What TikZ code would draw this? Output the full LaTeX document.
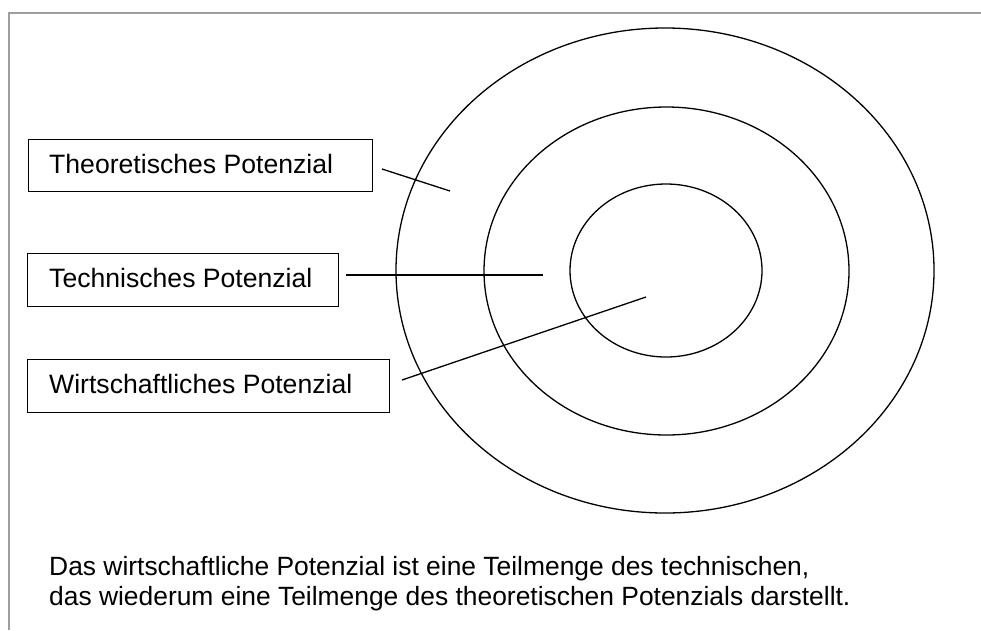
\documentclass[tikz,border=0pt]{standalone}
\usepackage{fontspec}
\setmainfont{Liberation Sans}
\usetikzlibrary{shapes.geometric}
\tikzset{
  ring/.style={draw=black, line width=1.3pt, ellipse, inner sep=0pt, outer sep=0pt},
  lbox/.style={draw=black, line width=1.4pt, rectangle, inner sep=0pt, anchor=north west},
  lbl/.style={anchor=base west, inner sep=0pt, font=\fontsize{26.6}{31}\selectfont},
  captext/.style={anchor=base west, inner sep=0pt, font=\fontsize{26.4}{30}\selectfont},
  conn/.style={draw=black, line width=1.3pt},
  frame/.style={draw=black!38, line width=1.8pt}
}
\begin{document}
\begin{tikzpicture}[x=1pt, y=-1pt]
\useasboundingbox (0,0) rectangle (981,630);
% frame
\coordinate (f1) at (9,630);
\coordinate (f2) at (9,13);
\coordinate (f3) at (981,13);
\draw[frame] (f1) -- (f2) -- (f3);
% rings
\node[ring, minimum width=538pt, minimum height=485pt] (outer) at (665,270.5) {};
\node[ring, minimum width=365pt, minimum height=328pt] (middle) at (666.5,271) {};
\node[ring, minimum width=192pt, minimum height=173pt] (inner) at (666,270.5) {};
% boxes
\node[lbox, minimum width=344pt, minimum height=52pt] (b1) at (28,139) {};
\node[lbox, minimum width=311pt, minimum height=53pt] (b2) at (27,253) {};
\node[lbox, minimum width=362pt, minimum height=53pt] (b3) at (27,359) {};
\node[lbl] (t1) at (49,173) {Theoretisches Potenzial};
\node[lbl] (t2) at (49,287) {Technisches Potenzial};
\node[lbl] (t3) at (49,393) {Wirtschaftliches Potenzial};
% connectors
\coordinate (s1) at (382,169);
\coordinate (e1) at (450,191);
\coordinate (s2) at (346,275);
\coordinate (e2) at (543,275);
\coordinate (s3) at (402,380);
\coordinate (e3) at (646,297);
\draw[conn] (s1) -- (e1);
\draw[conn] (s2) -- (e2);
\draw[conn] (s3) -- (e3);
% caption
\node[captext] (c1) at (49,575) {Das wirtschaftliche Potenzial ist eine Teilmenge des technischen,};
\node[captext] (c2) at (49,605) {das wiederum eine Teilmenge des theoretischen Potenzials darstellt.};
\end{tikzpicture}
\end{document}
